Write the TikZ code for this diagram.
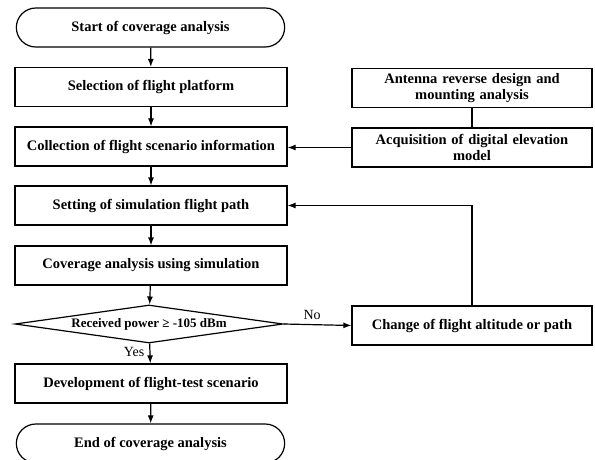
\documentclass[tikz,border=0pt]{standalone}
\usepackage{fontspec}
\setmainfont{Liberation Serif}
\usetikzlibrary{arrows.meta,shapes.geometric,shapes.misc}
\begin{document}
\begin{tikzpicture}[x=1pt,y=1pt,line width=1.2pt,>={Latex[length=8pt,width=6pt]},font=\fontsize{14}{16}\selectfont,
  box/.style={draw,rectangle,minimum height=39pt,align=center,font=\fontsize{14.5}{16.5}\selectfont\bfseries},
  term/.style={draw,rounded rectangle,minimum width=275pt,minimum height=39pt,font=\fontsize{14.5}{16.5}\selectfont\bfseries},
  cond/.style={draw,diamond,aspect=7,inner sep=0pt,minimum width=268pt,minimum height=38pt,font=\fontsize{13}{15}\selectfont\bfseries}]
\useasboundingbox (0,0) rectangle (595,459);
\node[term] (start) at (150.5,431.5) {Start of coverage analysis};
\node[box,minimum width=272pt] (select) at (151,372) {Selection of flight platform};
\node[box,minimum width=272pt] (collect) at (151,312.5) {Collection of flight scenario information};
\node[box,minimum width=272pt] (setpath) at (151,253.5) {Setting of simulation flight path};
\node[box,minimum width=272pt] (cover) at (151,193.5) {Coverage analysis using simulation};
\node[cond] (power) at (149,135) {Received power ≥ -105 dBm};
\node[box,minimum width=272pt] (develop) at (151,75.5) {Development of flight-test scenario};
\node[term] (finish) at (150.5,15.5) {End of coverage analysis};
\node[box,minimum width=240pt,text width=225pt] (antenna) at (472,371) {Antenna reverse design and\\mounting analysis};
\node[box,minimum width=240pt,text width=225pt] (dem) at (472,311.5) {Acquisition of digital elevation\\model};
\node[box,minimum width=240pt] (change) at (472,133.5) {Change of flight altitude or path};
\draw[->](start)--(select);
\draw[->](select)--(collect);
\draw[->](collect)--(setpath);
\draw[->](setpath)--(cover);
\draw[->](cover)--(power);
\draw[->](power)--node[left,pos=0.45,inner sep=5pt]{Yes}(develop);
\draw[->](develop)--(finish);
\draw(antenna)--(dem);
\draw[->](dem.west)--(dem.west-|collect.east);
\draw[->](power.east)--node[above,pos=0.42,inner sep=4pt]{No}(change.west);
\draw[->](change.north)|-(setpath.east);
\end{tikzpicture}
\end{document}
